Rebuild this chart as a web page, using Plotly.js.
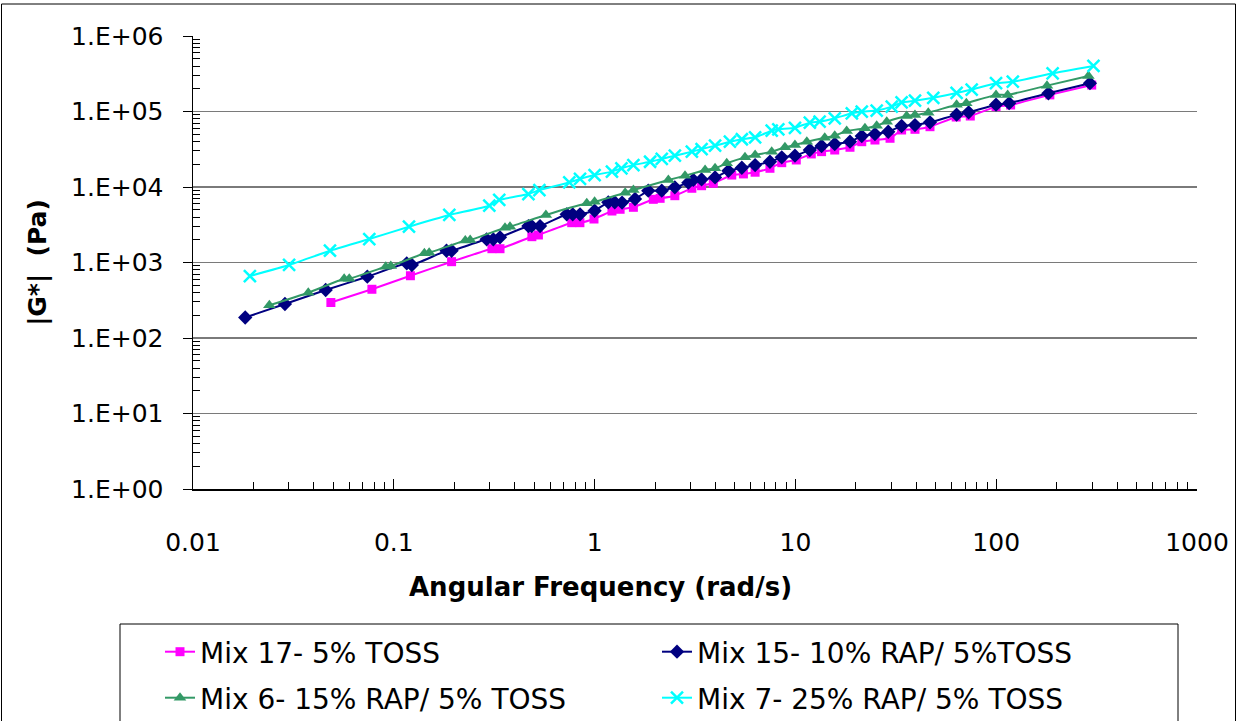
<!DOCTYPE html>
<html>
<head>
<meta charset="utf-8">
<script src="https://cdn.plot.ly/plotly-3.0.1.min.js"></script>
<style>html,body{margin:0;padding:0;background:#fff;}#chart{width:1241px;height:721px;}</style>
</head>
<body>
<div id="chart"></div>
<script>
// ---- data ----
const mix17_x = [0.0486,0.0778,0.121,0.194,0.308,0.338,0.487,0.525,0.769,0.845,0.993,1.22,1.34,1.56,1.96,2.12,2.51,3.05,3.41,3.90,4.82,5.51,6.30,7.47,8.55,10.1,12.0,13.5,15.7,18.7,21.4,24.9,29.6,33.8,39.4,46.8,63.2,74.3,99.8,118,185,299];
const mix17_y = [295,442,668,1025,1523,1523,2197,2314,3367,3367,3767,4808,5070,5385,6870,7080,7670,9620,10400,11200,14400,14900,15700,17700,21000,22800,27400,29400,30900,33600,39800,41900,44200,56900,58100,62900,84500,87100,116000,122000,166000,224000];

const mix15_x = [0.0182,0.0287,0.0458,0.0738,0.116,0.123,0.183,0.194,0.290,0.313,0.338,0.468,0.486,0.535,0.726,0.778,0.846,1.00,1.17,1.26,1.37,1.59,1.85,2.16,2.51,2.93,3.10,3.41,3.98,4.64,5.41,6.30,7.47,8.55,9.95,11.8,13.5,15.7,18.7,21.4,24.9,29.0,33.8,39.4,46.8,63.5,72.9,99.8,116,182,293];
const mix15_y = [187,282,432,649,975,927,1432,1432,2028,2028,2158,3040,3040,3040,4350,4350,4350,4850,6270,6270,6210,6940,8930,8930,9910,11400,12400,12600,13400,16400,18000,19500,21600,24700,26000,30900,34900,37100,39800,47300,50300,53900,64300,66200,71900,90800,97500,123000,129000,174000,237000];

const mix6_x = [0.0240,0.0375,0.0566,0.060,0.0912,0.0966,0.142,0.150,0.227,0.240,0.358,0.379,0.572,0.914,1.00,1.42,1.56,2.33,2.82,3.55,3.98,4.55,5.61,6.30,7.62,8.87,9.95,11.4,14.0,15.7,18.0,22.2,25.4,28.5,35.8,39.4,45.9,63.5,71.0,99.8,114,179,288];
const mix6_y = [271,398,609,609,879,899,1324,1350,1955,1985,2890,2980,4260,6080,6380,8410,9120,12400,14100,16800,17700,20600,24700,26500,29400,33600,36000,39800,45000,47800,55200,59800,64900,73300,87100,89900,96400,123000,129000,166000,166000,220000,295000];

const mix7_x = [0.0192,0.0301,0.0481,0.0755,0.119,0.189,0.299,0.335,0.468,0.531,0.748,0.846,1.00,1.22,1.36,1.56,1.89,2.16,2.51,3.05,3.41,3.98,4.72,5.41,6.30,7.62,8.22,9.95,11.8,13.2,15.7,19.1,21.4,25.4,30.2,33.8,39.4,48.6,63.5,75.5,99.8,121,191,305];
const mix7_y = [662,927,1432,2046,2980,4260,5650,6730,8070,9120,11500,12800,14400,16000,17700,19500,21600,23500,26000,29400,31800,35200,39800,42900,45500,55700,58100,60900,71100,73300,81300,94600,99400,103000,116000,132000,139000,152000,176000,195000,237000,248000,321000,401000];

const seriesNames = ["Mix 17- 5% TOSS","Mix 15- 10% RAP/ 5%TOSS","Mix 6- 15% RAP/ 5% TOSS","Mix 7- 25% RAP/ 5% TOSS"];
const xTitle = "Angular Frequency (rad/s)";
const yTitle = "|G*|  (Pa)";

const xTickVals = [0.01,0.1,1,10,100,1000];
const xTickText = ["0.01","0.1","1","10","100","1000"];
const yTickVals = [1,10,100,1000,10000,100000,1000000];
const yTickText = ["1.E+00","1.E+01","1.E+02","1.E+03","1.E+04","1.E+05","1.E+06"];

// minor tick values (2..9 within each decade)
function minorVals(lo, hi){
  const out=[];
  for(let e=lo;e<hi;e++){ for(let m=2;m<=9;m++){ out.push(m*Math.pow(10,e)); } }
  return out;
}

const FONT = "DejaVu Sans, Arial, sans-serif";
const lineShape = {shape:'spline', smoothing:0.4, width:2};

const traces = [
  {x:mix17_x, y:mix17_y, name:seriesNames[0], mode:'lines+markers', legend:'legend',
   line:Object.assign({color:'#FF00FF'}, lineShape),
   marker:{symbol:'square', size:9, color:'#FF00FF'}},
  {x:mix15_x, y:mix15_y, name:seriesNames[1], mode:'lines+markers', legend:'legend',
   line:Object.assign({color:'#000080'}, lineShape),
   marker:{symbol:'diamond', size:11, color:'#000080'}},
  {x:mix6_x, y:mix6_y, name:seriesNames[2], mode:'lines+markers', legend:'legend2',
   line:Object.assign({color:'#339966'}, lineShape),
   marker:{symbol:'triangle-up', size:11, color:'#339966'}},
  {x:mix7_x, y:mix7_y, name:seriesNames[3], mode:'lines+markers', legend:'legend2',
   line:Object.assign({color:'#00FFFF'}, lineShape),
   marker:{symbol:'x-thin', size:12, color:'#00FFFF', line:{color:'#00FFFF', width:2.5}}}
];

const W=1004, H=453; // plot area size in px
const px = v => (v-193)/W;       // page x -> paper x
const py = v => (489-v)/H;       // page y -> paper y
const cx = v => v/1241;          // page x -> container x
const cy = v => 1 - v/721;       // page y -> container y

const legendCommon = {
  orientation:'h', xanchor:'left', yanchor:'middle',
  xref:'container', yref:'container',
  font:{family:FONT, size:28, color:'#000'},
  bgcolor:'rgba(0,0,0,0)', borderwidth:0,
  entrywidth:452, entrywidthmode:'pixels', itemclick:false
};

const layout = {
  width:1241, height:721,
  margin:{l:193, r:44, t:36, b:232, pad:0, autoexpand:false},
  paper_bgcolor:'#fff', plot_bgcolor:'#fff',
  font:{family:FONT, color:'#000'},
  showlegend:true,
  legend:Object.assign({x:cx(160), y:cy(652)}, legendCommon),
  legend2:Object.assign({x:cx(160), y:cy(698)}, legendCommon),
  xaxis:{
    type:'log', range:[-2,3], autorange:false,
    showgrid:false, zeroline:false,
    showline:true, linecolor:'#000', linewidth:1.5, mirror:false,
    ticks:'inside', ticklen:10, tickwidth:1, tickcolor:'#000',
    tickmode:'array', tickvals:xTickVals, ticktext:xTickText,
    tickfont:{family:FONT, size:25, color:'#000'},
    ticklabelstandoff:30,
    minor:{tickmode:'array', tickvals:minorVals(-2,3), ticks:'inside', ticklen:7, tickwidth:1, tickcolor:'#000', showgrid:false}
  },
  yaxis:{
    type:'log', range:[0,6], autorange:false,
    showgrid:true, gridcolor:'#7a7a7a', gridwidth:1.5, zeroline:false,
    showline:true, linecolor:'#000', linewidth:1.5,
    ticks:'outside', ticklen:9, tickwidth:1, tickcolor:'#000',
    tickmode:'array', tickvals:yTickVals, ticktext:yTickText,
    tickfont:{family:FONT, size:25, color:'#000'},
    ticklabelstandoff:14,
    minor:{tickmode:'array', tickvals:minorVals(0,6), ticks:'inside', ticklen:7, tickwidth:1, tickcolor:'#000', showgrid:false},
    title:{text:'<b>'+yTitle+'</b>', font:{family:FONT, size:25, color:'#000'}, standoff:17}
  },
  annotations:[
    {text:'<b>'+xTitle+'</b>', xref:'paper', yref:'paper', x:px(600), y:py(587),
     xanchor:'center', yanchor:'middle', showarrow:false,
     font:{family:FONT, size:26, color:'#000'}}
  ],
  shapes:[
    {type:'rect', xref:'paper', yref:'paper', x0:px(120), x1:px(1178), y0:py(760), y1:py(624),
     line:{color:'#000', width:1}, fillcolor:'rgba(0,0,0,0)', layer:'below'},
    {type:'rect', xref:'paper', yref:'paper', x0:px(1.5), x1:px(1235.5), y0:py(760), y1:py(4),
     line:{color:'#000', width:1}, fillcolor:'rgba(0,0,0,0)', layer:'below'}
  ]
};

Plotly.newPlot('chart', traces, layout, {displayModeBar:false, staticPlot:true});
</script>
</body>
</html>
